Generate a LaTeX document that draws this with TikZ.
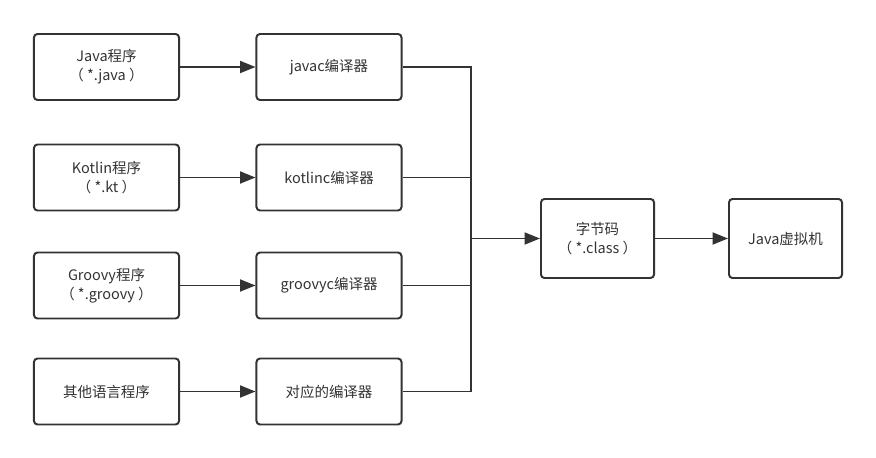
\documentclass[tikz,border=0pt]{standalone}
\usepackage{fontspec}
\setmainfont{Noto Sans CJK SC}
\usetikzlibrary{arrows.meta}
\definecolor{linegray}{HTML}{333333}

\begin{document}
\begin{tikzpicture}[x=0.025cm, y=-0.025cm]
% Styles
\tikzset{
    block/.style={draw=linegray, line width=1.4pt, rounded corners=2.5pt, text=linegray,
        align=center, font=\fontsize{10.3}{13.5}\selectfont,
        minimum width=3.625cm, minimum height=1.65cm, inner sep=0pt},
    wide/.style={block, minimum width=2.825cm, minimum height=1.975cm},
    flow/.style={draw=linegray, line width=1.4pt, -{Triangle[length=11pt, width=8.5pt]}},
    joint/.style={draw=linegray, line width=1.4pt}
}
\useasboundingbox (0,0) rectangle (876,458);

% Nodes
\node[block] (SRC1) at (106.5, 67) {Java程序\\（ *.java ）};
\node[block] (SRC2) at (106.5, 177.5) {Kotlin程序\\（ *.kt ）};
\node[block] (SRC3) at (106.5, 285.5) {Groovy程序\\（ *.groovy ）};
\node[block] (SRC4) at (106.5, 391.5) {其他语言程序};

\node[block] (CMP1) at (329, 67) {javac编译器};
\node[block] (CMP2) at (329, 177.5) {kotlinc编译器};
\node[block] (CMP3) at (329, 285.5) {groovyc编译器};
\node[block] (CMP4) at (329, 391.5) {对应的编译器};

\node[wide] (BC) at (597.5, 238.5) {字节码\\（ *.class ）};
\node[wide] (JVM) at (785.5, 238.5) {Java虚拟机};

\coordinate (MRG) at (471, 238.5);

% Connections
\draw[flow] (SRC1) -- (CMP1);
\draw[flow] (SRC2) -- (CMP2);
\draw[flow] (SRC3) -- (CMP3);
\draw[flow] (SRC4) -- (CMP4);

\draw[joint] (CMP1.east) -| (MRG);
\draw[joint] (CMP2.east) -| (MRG);
\draw[joint] (CMP3.east) -| (MRG);
\draw[joint] (CMP4.east) -| (MRG);

\draw[flow] (MRG) -- (BC);
\draw[flow] (BC) -- (JVM);
\end{tikzpicture}
\end{document}
